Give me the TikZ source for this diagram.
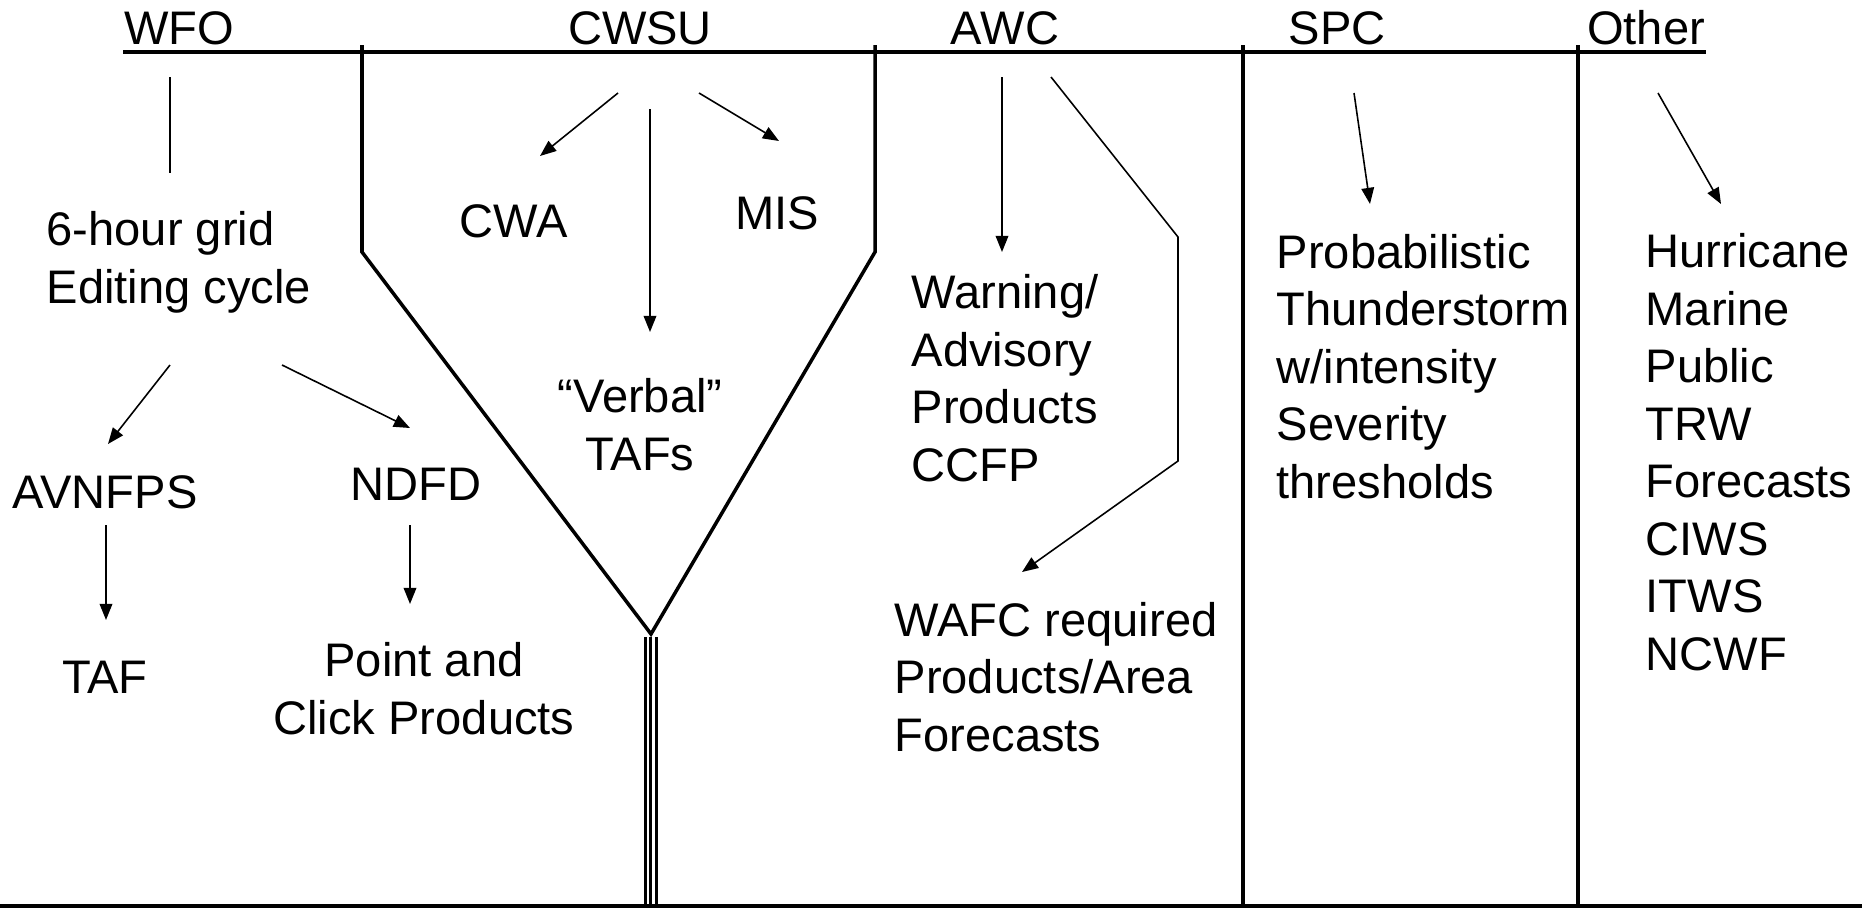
\documentclass[tikz,border=0pt]{standalone}
\usepackage{fontspec}
\setmainfont{Liberation Sans}
\usetikzlibrary{arrows.meta}

\begin{document}
\begin{tikzpicture}[
  txt/.style={inner sep=0pt,font=\fontsize{13.4pt}{16.36pt}\selectfont},
  wall/.style={line width=1pt},
  arr/.style={line width=0.45pt,-{Triangle[length=4.6pt,width=3.6pt]}}
]
\useasboundingbox (0,0) rectangle (18.62,-9.09);
% headings and frame
\node[txt,anchor=base] (wfo) at (1.79,-0.44) {WFO};
\node[txt,anchor=base] (cwsu) at (6.40,-0.44) {CWSU};
\node[txt,anchor=base] (awc) at (10.05,-0.44) {AWC};
\node[txt,anchor=base] (spc) at (13.37,-0.44) {SPC};
\node[txt,anchor=base] (other) at (16.46,-0.44) {Other};
\draw[wall] (1.23,-0.52) -- (17.06,-0.52);
\draw[wall] (3.62,-0.45) -- (3.62,-2.52) -- (6.51,-6.34) -- (8.75,-2.52) -- (8.75,-0.45);
\foreach \xx in {6.45,6.505,6.565} {
  \draw[line width=0.85pt] (\xx,-6.37) -- (\xx,-9.06);
}
\draw[wall] (12.43,-0.45) -- (12.43,-9.06);
\draw[wall] (15.78,-0.45) -- (15.78,-9.06);
\draw[line width=0.9pt] (0,-9.06) -- (18.62,-9.06);
% WFO (multi-line nodes sit on their last baseline)
\node[txt,anchor=base west,align=left] (grid) at (0.46,-3.03) {6-hour grid\\Editing cycle};
\node[txt,anchor=base] (avn) at (1.05,-5.08) {AVNFPS};
\node[txt,anchor=base] (ndfd) at (4.16,-5.00) {NDFD};
\node[txt,anchor=base] (taf) at (1.05,-6.93) {TAF};
\node[txt,anchor=base,align=center] (pnc) at (4.24,-7.34) {Point and\\Click Products};
\coordinate (wfoT) at (1.70,-0.77);
\coordinate (wfoB) at (1.70,-1.73);
\coordinate (gridL) at (1.70,-3.65);
\coordinate (gridR) at (2.82,-3.65);
\coordinate (avnT) at (1.08,-4.44);
\coordinate (ndfdT) at (4.10,-4.28);
\coordinate (avnB) at (1.06,-5.25);
\coordinate (tafT) at (1.06,-6.20);
\coordinate (ndfdB) at (4.10,-5.25);
\coordinate (pncT) at (4.10,-6.04);
\draw[line width=0.45pt] (wfoT) -- (wfoB);
\draw[arr] (gridL) -- (avnT);
\draw[arr] (gridR) -- (ndfdT);
\draw[arr] (avnB) -- (tafT);
\draw[arr] (ndfdB) -- (pncT);
% CWSU
\node[txt,anchor=base] (cwa) at (5.14,-2.37) {CWA};
\node[txt,anchor=base] (mis) at (7.77,-2.29) {MIS};
\node[txt,anchor=base,align=center] (vtaf) at (6.40,-4.70) {“Verbal”\\TAFs};
\coordinate (cwsuL) at (6.18,-0.93);
\coordinate (cwsuM) at (6.50,-1.09);
\coordinate (cwsuR) at (6.99,-0.93);
\coordinate (cwaT) at (5.40,-1.56);
\coordinate (misT) at (7.79,-1.41);
\coordinate (vtafT) at (6.50,-3.32);
\draw[arr] (cwsuL) -- (cwaT);
\draw[arr] (cwsuR) -- (misT);
\draw[arr] (cwsuM) -- (vtafT);
% AWC
\node[txt,anchor=base west,align=left] (warn) at (9.11,-4.81) {Warning/\\Advisory\\Products\\CCFP};
\node[txt,anchor=base west,align=left] (wafc) at (8.94,-7.51) {WAFC required\\Products/Area\\Forecasts};
\coordinate (awcL) at (10.02,-0.77);
\coordinate (warnT) at (10.02,-2.52);
\coordinate (awcR) at (10.51,-0.77);
\coordinate (bendA) at (11.78,-2.37);
\coordinate (bendB) at (11.78,-4.61);
\coordinate (wafcT) at (10.22,-5.72);
\draw[arr] (awcL) -- (warnT);
\draw[arr] (awcR) -- (bendA) -- (bendB) -- (wafcT);
% SPC
\node[txt,anchor=base west,align=left] (prob) at (12.76,-4.98) {Probabilistic\\Thunderstorm\\w/intensity\\Severity\\thresholds};
\coordinate (spcS) at (13.54,-0.93);
\coordinate (probT) at (13.70,-2.04);
\draw[arr] (spcS) -- (probT);
% Other
\node[txt,anchor=base west,align=left] (olist) at (16.45,-6.70) {Hurricane\\Marine\\Public\\TRW\\Forecasts\\CIWS\\ITWS\\NCWF};
\coordinate (otherS) at (16.58,-0.93);
\coordinate (olistT) at (17.21,-2.04);
\draw[arr] (otherS) -- (olistT);
\end{tikzpicture}
\end{document}
